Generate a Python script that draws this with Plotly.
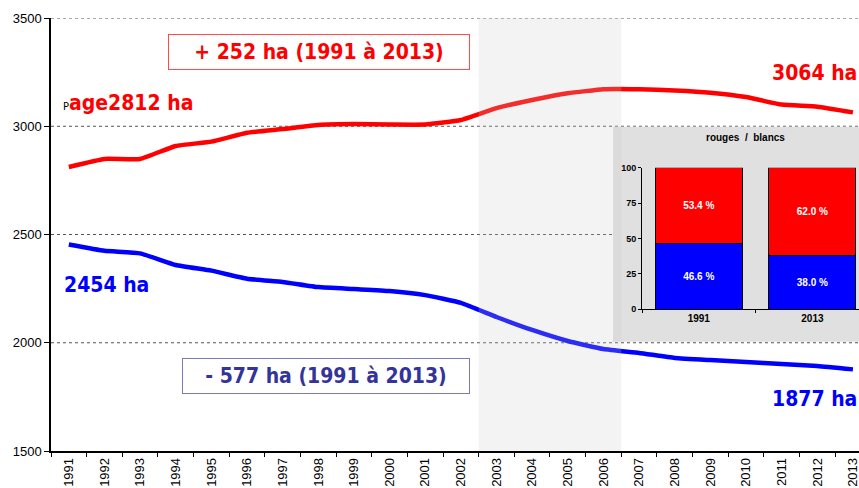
import plotly.graph_objects as go

# ---------------- data ----------------
years = [str(y) for y in range(1991, 2014)]
rouges = [2812, 2849, 2849, 2909, 2929, 2970, 2987, 3006, 3010, 3008, 3008, 3029,
          3084, 3121, 3152, 3171, 3171, 3165, 3155, 3135, 3100, 3090, 3064]
blancs = [2454, 2425, 2413, 2359, 2333, 2296, 2281, 2257, 2248, 2239, 2220, 2184,
          2119, 2059, 2008, 1971, 1953, 1930, 1920, 1911, 1902, 1893, 1877]
y_ticks = [1500, 2000, 2500, 3000, 3500]

inset_years = ["1991", "2013"]
inset_blancs = [46.6, 38.0]
inset_rouges = [53.4, 62.0]
inset_ticks = [0, 25, 50, 75, 100]

# ---------------- layout helpers ----------------
W, H = 859, 488
L, R, T, B = 51, 859, 18, 451
def px(x):
    return (x - L) / (R - L)
def py(y):
    return (B - y) / (B - T)

BIG = "DejaVu Sans Condensed, DejaVu Sans, sans-serif"
ARIAL = "Liberation Sans, Arial, sans-serif"

fig = go.Figure()

fig.add_trace(go.Scatter(x=years, y=rouges, mode="lines",
                         line=dict(color="#ff0000", width=4.5, shape="spline", smoothing=0.4),
                         xaxis="x", yaxis="y", hoverinfo="skip"))
fig.add_trace(go.Scatter(x=years, y=blancs, mode="lines",
                         line=dict(color="#0000ff", width=4.5, shape="spline", smoothing=0.4),
                         xaxis="x", yaxis="y", hoverinfo="skip"))

# inset stacked bars
fig.add_trace(go.Bar(x=inset_years, y=inset_blancs, xaxis="x2", yaxis="y2",
                     marker=dict(color="#0000ff", line=dict(color="#000000", width=1)),
                     width=0.765,
                     text=[f"{v:.1f} %" for v in inset_blancs], textposition="inside",
                     insidetextanchor="middle",
                     textfont=dict(color="white", size=10, family=ARIAL, weight="bold"),
                     hoverinfo="skip"))
fig.add_trace(go.Bar(x=inset_years, y=inset_rouges, xaxis="x2", yaxis="y2",
                     marker=dict(color="#ff0000", line=dict(color="#000000", width=1)),
                     width=0.765,
                     text=[f"{v:.1f} %" for v in inset_rouges], textposition="inside",
                     insidetextanchor="middle",
                     textfont=dict(color="white", size=10, family=ARIAL, weight="bold"),
                     hoverinfo="skip"))

shapes = []
# dotted gridlines (drawn as shapes so the inset panel can hide them)
for v in y_ticks[1:]:
    shapes.append(dict(type="line", xref="x domain", yref="y", x0=0, x1=1, y0=v, y1=v,
                       line=dict(color="#555555", width=1, dash="dot"), layer="below"))
# inset panel background
shapes.append(dict(type="rect", xref="paper", yref="paper",
                   x0=px(613), x1=1.0, y0=py(341.7), y1=py(126.7),
                   fillcolor="#e0e0e0", line=dict(width=0), layer="below"))
# shaded period 2003-2006
shapes.append(dict(type="rect", xref="x", yref="y domain", x0=11.5, x1=15.5, y0=0, y1=1,
                   fillcolor="rgba(200,200,200,0.22)", line=dict(width=0), layer="above"))

annotations = [
    dict(text="+ 252 ha (1991 à 2013)", x=px(319), y=py(52), xref="paper", yref="paper",
         xanchor="center", yanchor="middle", showarrow=False,
         font=dict(family=BIG, size=21, color="#ff0000", weight="bold"),
         bordercolor="#ff4a4a", borderwidth=1, borderpad=0, width=300, height=34,
         bgcolor="white"),
    dict(text="- 577 ha (1991 à 2013)", x=px(326), y=py(376), xref="paper", yref="paper",
         xanchor="center", yanchor="middle", showarrow=False,
         font=dict(family=BIG, size=21, color="#333399", weight="bold"),
         bordercolor="#7a7ab8", borderwidth=1, borderpad=0, width=286, height=34,
         bgcolor="white"),
    dict(text='<span style="color:#000000;font-size:11px;font-weight:normal">P</span>age2812 ha',
         x=px(61), y=py(103), xref="paper", yref="paper", xanchor="left", yanchor="middle",
         showarrow=False, font=dict(family=BIG, size=21, color="#ff0000", weight="bold")),
    dict(text="3064 ha", x=px(859), y=py(73), xref="paper", yref="paper",
         xanchor="right", yanchor="middle", showarrow=False,
         font=dict(family=BIG, size=21, color="#ff0000", weight="bold")),
    dict(text="2454 ha", x=px(62), y=py(285), xref="paper", yref="paper",
         xanchor="left", yanchor="middle", showarrow=False,
         font=dict(family=BIG, size=21, color="#0000ff", weight="bold")),
    dict(text="1877 ha", x=px(859), y=py(399), xref="paper", yref="paper",
         xanchor="right", yanchor="middle", showarrow=False,
         font=dict(family=BIG, size=21, color="#0000ff", weight="bold")),
    dict(text="rouges  /  blancs", x=px(745), y=py(137), xref="paper", yref="paper",
         xanchor="center", yanchor="middle", showarrow=False,
         font=dict(family=ARIAL, size=10, color="#000000", weight="bold")),
]

fig.update_layout(
    width=W, height=H,
    margin=dict(l=L, r=W - R, t=T, b=H - B, pad=0, autoexpand=False),
    paper_bgcolor="white", plot_bgcolor="rgba(0,0,0,0)",
    showlegend=False, barmode="stack",
    shapes=shapes, annotations=annotations,
    xaxis=dict(domain=[0, 1], type="category", range=[-0.5, 22.17], automargin=False,
               showgrid=False, zeroline=False, showline=True, linecolor="#000000", linewidth=1.5,
               ticks="outside", ticklen=4, tickcolor="#000000", tickson="boundaries",
               tickangle=-90, tickfont=dict(family=ARIAL, size=13, color="#000000"),
               anchor="y"),
    yaxis=dict(domain=[0, 1], range=[1500, 3500], tickvals=y_ticks, automargin=False,
               showgrid=False, zeroline=False, showline=True, linecolor="#000000", linewidth=1.5,
               ticks="outside", ticklen=5, tickcolor="#000000",
               tickfont=dict(family=ARIAL, size=13, color="#000000"), anchor="x"),
    xaxis2=dict(domain=[px(642), 1.0], type="category", range=[-0.5, 1.41], automargin=False,
                showgrid=False, zeroline=False, showline=True, linecolor="#000000", linewidth=1,
                ticks="outside", ticklen=3, tickcolor="#000000", tickson="boundaries",
                tickfont=dict(family=ARIAL, size=10, color="#000000", weight="bold"),
                anchor="y2"),
    yaxis2=dict(domain=[py(309), py(167.7)], range=[0, 100], tickvals=inset_ticks, automargin=False,
                showgrid=False, zeroline=False, showline=True, linecolor="#000000", linewidth=1,
                ticks="outside", ticklen=3, tickcolor="#000000",
                tickfont=dict(family=ARIAL, size=9, color="#000000", weight="bold"),
                anchor="x2"),
)

fig.write_html("out.html", config={"displayModeBar": False},
               post_script="document.body.style.margin='0';document.body.style.padding='0';")
